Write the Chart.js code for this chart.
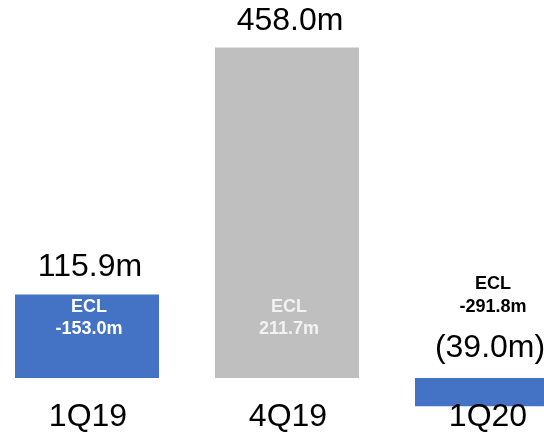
<!DOCTYPE html>
<html>
<head>
<meta charset="utf-8">
<script src="https://cdn.jsdelivr.net/npm/chart.js@4/dist/chart.umd.min.js"></script>
<style>
  html, body { margin: 0; padding: 0; background: #fff; overflow: hidden; }
  #wrap { position: absolute; left: -13px; top: 0; width: 600px; height: 435px; }
</style>
</head>
<body>
<div id="wrap"><canvas id="bar" width="600" height="435"></canvas></div>
<script>
const quarters = ["1Q19", "4Q19", "1Q20"];
const netValues = [115.9, 458.0, -39.0];
const eclValues = [-153.0, 211.7, -291.8];

const barColors = ["#4472c4", "#bfbfbf", "#4472c4"];
const eclInsideColors = ["#ffffff", "#f2f2f2", "#ffffff"];

function fmtNet(v) {
  return v < 0 ? "(" + Math.abs(v).toFixed(1) + "m)" : v.toFixed(1) + "m";
}

const labelPlugin = {
  id: "barLabels",
  afterDatasetsDraw(chart) {
    const ctx = chart.ctx;
    const xs = chart.scales.x;
    const ys = chart.scales.y;
    const zero = ys.getPixelForValue(0);
    ctx.save();
    ctx.textAlign = "center";
    ctx.textBaseline = "alphabetic";
    netValues.forEach((v, i) => {
      const x = xs.getPixelForValue(i);
      const top = ys.getPixelForValue(v);

      // quarter name under the bars
      ctx.fillStyle = "#000";
      ctx.font = "32px 'Liberation Sans', Arial, sans-serif";
      ctx.fillText(quarters[i], x + 1, zero + 48);

      // net figure above the bar (or above zero when negative)
      const valY = v >= 0 ? top - 18 : zero - 21;
      ctx.fillText(fmtNet(v), x + 3, valY);

      // ECL note
      ctx.font = "bold 18px 'Liberation Sans', Arial, sans-serif";
      const eclText = eclValues[i].toFixed(1) + "m";
      if (v >= 0) {
        ctx.fillStyle = eclInsideColors[i];
        ctx.fillText("ECL", x + 2, zero - 66);
        ctx.fillText(eclText, x + 2, zero - 44);
      } else {
        ctx.fillStyle = "#000";
        ctx.fillText("ECL", x + 6, zero - 89);
        ctx.fillText(eclText, x + 6, zero - 66);
      }
    });
    ctx.restore();
  }
};

new Chart(document.getElementById("bar").getContext("2d"), {
  type: "bar",
  data: {
    labels: quarters,
    datasets: [
      {
        data: netValues,
        backgroundColor: barColors,
        borderWidth: 0,
        barPercentage: 0.72,
        categoryPercentage: 1.0
      }
    ]
  },
  options: {
    responsive: false,
    animation: false,
    layout: { padding: 0 },
    plugins: {
      legend: { display: false },
      tooltip: { enabled: false }
    },
    scales: {
      x: { display: false, offset: true },
      y: { display: false, min: -79, max: 524 }
    }
  },
  plugins: [labelPlugin]
});
</script>
</body>
</html>
